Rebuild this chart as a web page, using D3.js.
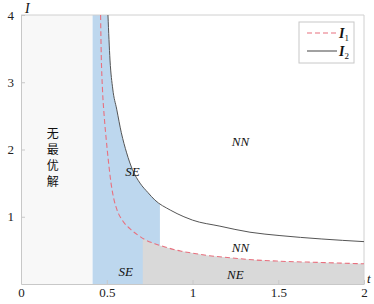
<!DOCTYPE html>
<html><head><meta charset="utf-8">
<script src="https://cdn.jsdelivr.net/npm/d3@7"></script>
<style>
html,body{margin:0;padding:0;background:#fff;}
svg{display:block;}
.serif{font-family:"Liberation Serif","Times New Roman",Times,"DejaVu Serif",serif;}
</style></head>
<body>
<script>
// ---- data ----
const xTicks = [0, 0.5, 1, 1.5, 2];
const xTickLabels = ["0", "0.5", "1", "1.5", "2"];
const yTicks = [1, 2, 3, 4];
const yTickLabels = ["1", "2", "3", "4"];

const tI1 = [0.464, 0.468, 0.475, 0.485, 0.497, 0.51, 0.525, 0.54, 0.56, 0.59, 0.636, 0.68, 0.723, 0.78, 0.84, 0.93, 1.0, 1.1, 1.22, 1.35, 1.5, 1.75, 2.0];
const vI1 = [4.0, 3.4, 2.9, 2.5, 2.15, 1.82, 1.5, 1.28, 1.1, 0.95, 0.82, 0.73, 0.66, 0.6, 0.55, 0.49, 0.46, 0.42, 0.39, 0.36, 0.34, 0.32, 0.30];

const tI2 = [0.507, 0.519, 0.535, 0.558, 0.585, 0.616, 0.65, 0.694, 0.74, 0.78, 0.87, 0.95, 1.0, 1.16, 1.335, 1.51, 1.75, 2.0];
const vI2 = [4.0, 3.33, 2.9, 2.6, 2.25, 1.95, 1.7, 1.5, 1.36, 1.25, 1.1, 1.0, 0.95, 0.86, 0.77, 0.72, 0.67, 0.63];

// region boundaries (t values)
const noSolutionEnd = 0.416;
const seEnd = 0.81;
const neStart = 0.71;

const seriesNames = ["I", "I"];
const seriesSubs = ["1", "2"];
const regionLabels = [
  {text: "NN", t: 1.28, v: 2.05},
  {text: "SE", t: 0.65, v: 1.6},
  {text: "NN", t: 1.28, v: 0.47},
  {text: "NE", t: 1.25, v: 0.07},
  {text: "SE", t: 0.61, v: 0.12}
];
const noSolutionText = ["无", "最", "优", "解"];

// ---- layout ----
const W = 374, H = 304;
const m = {left: 21, top: 15, right: 10, bottom: 20};
const iw = W - m.left - m.right, ih = H - m.top - m.bottom;

const x = d3.scaleLinear().domain([0, 2]).range([0, iw]);
const y = d3.scaleLinear().domain([0, 4]).range([ih, 0]);

const svg = d3.select("body").append("svg").attr("width", W).attr("height", H);
const defs = svg.append("defs");
const g = svg.append("g").attr("transform", `translate(${m.left},${m.top})`);

defs.append("clipPath").attr("id", "plotClip").append("rect")
  .attr("x", 0).attr("y", 0).attr("width", iw).attr("height", ih);
defs.append("clipPath").attr("id", "seClip").append("rect")
  .attr("x", x(noSolutionEnd)).attr("y", 0).attr("width", x(seEnd) - x(noSolutionEnd)).attr("height", ih);
defs.append("clipPath").attr("id", "neClip").append("rect")
  .attr("x", x(neStart)).attr("y", 0).attr("width", x(2) - x(neStart)).attr("height", ih);

const d1 = tI1.map((t, i) => [t, vI1[i]]);
const d2 = tI2.map((t, i) => [t, vI2[i]]);

// no-solution region
g.append("rect").attr("x", 0).attr("y", 0)
  .attr("width", x(noSolutionEnd)).attr("height", ih)
  .attr("fill", "#f8f8f8");

// SE region (under I2)
const seData = [[noSolutionEnd, 4]].concat(d2);
const area = d3.area().x(d => x(d[0])).y0(y(0)).y1(d => y(d[1])).curve(d3.curveMonotoneX);
g.append("path").datum(seData).attr("d", area)
  .attr("fill", "#bdd7ee").attr("clip-path", "url(#seClip)");

// NE region (under I1)
g.append("path").datum(d1).attr("d", area)
  .attr("fill", "#d9d9d9").attr("clip-path", "url(#neClip)");

// frame
g.append("line").attr("x1", 0).attr("x2", iw).attr("y1", 0).attr("y2", 0).attr("stroke", "#d0d0d0");
g.append("line").attr("x1", iw).attr("x2", iw).attr("y1", 0).attr("y2", ih).attr("stroke", "#d0d0d0");

// axes
const xAxis = d3.axisBottom(x).tickValues(xTicks).tickFormat((d, i) => xTickLabels[i]).tickSizeInner(-4).tickSizeOuter(0).tickPadding(4);
const yAxis = d3.axisLeft(y).tickValues(yTicks).tickFormat((d, i) => yTickLabels[i]).tickSizeInner(-4).tickSizeOuter(0).tickPadding(7);
const gx = g.append("g").attr("transform", `translate(0,${ih})`).call(xAxis);
const gy = g.append("g").call(yAxis);
[gx, gy].forEach(a => {
  a.attr("font-family", null).attr("font-size", null);
  a.select(".domain").attr("stroke", "#c8c8c8");
  a.selectAll(".tick line").attr("stroke", "#c8c8c8");
  a.selectAll(".tick text").attr("fill", "#222").attr("class", "serif").style("font-size", "13px");
});

// curves
const line = d3.line().x(d => x(d[0])).y(d => y(d[1])).curve(d3.curveMonotoneX);
g.append("path").datum(d2).attr("d", line).attr("fill", "none")
  .attr("stroke", "#555").attr("stroke-width", 1).attr("clip-path", "url(#plotClip)");
g.append("path").datum(d1).attr("d", line).attr("fill", "none")
  .attr("stroke", "#e8707e").attr("stroke-width", 1.1).attr("stroke-dasharray", "5,3")
  .attr("clip-path", "url(#plotClip)");

// region labels
regionLabels.forEach(r => {
  g.append("text").attr("class", "serif").attr("x", x(r.t)).attr("y", y(r.v)).attr("text-anchor", "middle")
    .style("font-style", "italic")
    .style("font-size", "13px").attr("fill", "#111").text(r.text);
});

// no solution vertical text
noSolutionText.forEach((c, i) => {
  g.append("text").attr("x", x(noSolutionEnd / 2) - 4).attr("y", 123 + i * 16)
    .attr("text-anchor", "middle")
    .style("font-family", "'Noto Sans CJK SC', sans-serif").style("font-size", "12px")
    .attr("fill", "#111").text(c);
});

// axis titles
svg.append("text").attr("class", "serif").attr("x", 25).attr("y", 13)
  .style("font-style", "italic").style("font-size", "14px")
  .attr("fill", "#111").text("I");
svg.append("text").attr("class", "serif").attr("x", 367).attr("y", 283)
  .style("font-style", "italic").style("font-size", "13px")
  .attr("fill", "#111").text("t");

// legend
const lg = svg.append("g").attr("transform", "translate(299,22)");
lg.append("rect").attr("x", 0).attr("y", 0).attr("width", 55).attr("height", 41)
  .attr("fill", "#fff").attr("stroke", "#c8c8c8");
const legStyles = [
  {stroke: "#e8707e", dash: "5,3"},
  {stroke: "#555", dash: null}
];
seriesNames.forEach((n, i) => {
  const yy = 11 + i * 18;
  const l = lg.append("line").attr("x1", 8).attr("x2", 38).attr("y1", yy).attr("y2", yy)
    .attr("stroke", legStyles[i].stroke).attr("stroke-width", 1.1);
  if (legStyles[i].dash) l.attr("stroke-dasharray", legStyles[i].dash);
  const t = lg.append("text").attr("class", "serif").attr("x", 40).attr("y", yy + 5)
    .style("font-size", "14px").attr("fill", "#111");
  t.append("tspan").style("font-style", "italic").style("font-weight", "bold").text(n);
  t.append("tspan").attr("dy", 3).style("font-size", "9px").text(seriesSubs[i]);
});
</script>
</body></html>
